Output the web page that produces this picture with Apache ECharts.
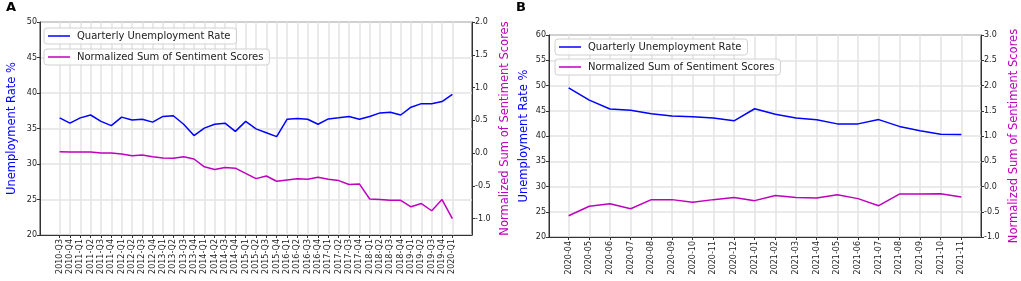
<!DOCTYPE html>
<html>
<head>
<meta charset="utf-8">
<title>Unemployment rate vs sentiment</title>
<script src="https://cdn.jsdelivr.net/npm/echarts@6/dist/echarts.min.js"></script>
<style>
  html, body { margin: 0; padding: 0; background: #fff; }
  #MyChart { width: 1021px; height: 281px; }
</style>
</head>
<body>
<div id="MyChart"></div>
<script>
// panel A: quarterly
const quartersA = ['2010-Q3', '2010-Q4',
  '2011-Q1', '2011-Q2', '2011-Q3', '2011-Q4',
  '2012-Q1', '2012-Q2', '2012-Q3', '2012-Q4',
  '2013-Q1', '2013-Q2', '2013-Q3', '2013-Q4',
  '2014-Q1', '2014-Q2', '2014-Q3', '2014-Q4',
  '2015-Q1', '2015-Q2', '2015-Q3', '2015-Q4',
  '2016-Q1', '2016-Q2', '2016-Q3', '2016-Q4',
  '2017-Q1', '2017-Q2', '2017-Q3', '2017-Q4',
  '2018-Q1', '2018-Q2', '2018-Q3', '2018-Q4',
  '2019-Q1', '2019-Q2', '2019-Q3', '2019-Q4',
  '2020-Q1']
const unempA = [36.5, 35.75,
  36.5, 36.9, 36.0, 35.4,
  36.6, 36.2, 36.3, 35.9,
  36.7, 36.8, 35.6, 34.0,
  35.05, 35.6, 35.75, 34.6,
  36.0, 34.95, 34.4, 33.85,
  36.3, 36.4, 36.3, 35.6,
  36.35, 36.5, 36.7, 36.3,
  36.7, 37.2, 37.3, 36.9,
  38.0, 38.5, 38.5, 38.8,
  39.8]
const sentA = [0.02, 0.015,
  0.015, 0.015, 0.0, 0.0,
  -0.015, -0.04, -0.03, -0.056,
  -0.076, -0.08, -0.056, -0.09,
  -0.21, -0.25, -0.22, -0.23,
  -0.31, -0.39, -0.35, -0.43,
  -0.41, -0.39, -0.40, -0.37,
  -0.40, -0.42, -0.48, -0.47,
  -0.70, -0.71, -0.72, -0.72,
  -0.82, -0.77, -0.88, -0.71,
  -1.0]

// panel B: monthly
const monthsB = ['2020-04', '2020-05', '2020-06', '2020-07', '2020-08', '2020-09',
  '2020-10', '2020-11', '2020-12', '2021-01', '2021-02', '2021-03', '2021-04',
  '2021-05', '2021-06', '2021-07', '2021-08', '2021-09', '2021-10', '2021-11']
const unempB = [49.55, 47.1, 45.35, 45.1, 44.4, 43.95, 43.8, 43.55, 43.0, 45.4,
  44.3, 43.55, 43.2, 42.4, 42.4, 43.25, 41.9, 41.05, 40.35, 40.3]
const sentB = [-0.58, -0.39, -0.34, -0.44, -0.26, -0.26, -0.31, -0.26, -0.22, -0.28,
  -0.18, -0.22, -0.23, -0.165, -0.24, -0.38, -0.15, -0.15, -0.145, -0.21]

// tick labels
const leftTicksA = [20, 25, 30, 35, 40, 45, 50]
const rightTicksA = [-1.0, -0.5, 0.0, 0.5, 1.0, 1.5, 2.0]
const leftTicksB = [20, 25, 30, 35, 40, 45, 50, 55, 60]
const rightTicksB = [-1.0, -0.5, 0.0, 0.5, 1.0, 1.5, 2.0, 2.5, 3.0]

const NAME_U = 'Quarterly Unemployment Rate'
const NAME_S = 'Normalized Sum of Sentiment Scores'
const BLUE = '#0000ff'
const MAG = '#bf00bf'
const FONT = 'DejaVu Sans'

var myEchart = echarts.init(document.getElementById('MyChart'), null, { renderer: 'canvas' })

// [index, value] pairs for a value x axis
function pairs (vals) {
  return vals.map(function (v, i) { return [i, v] })
}
function idx (n) {
  var out = []
  for (var i = 0; i < n; i++) out.push(i)
  return out
}

// x axis like matplotlib: 5% margin each side
function xAxisFor (gridIndex, cats) {
  var n = cats.length - 1
  return {
    type: 'value',
    gridIndex: gridIndex,
    min: -0.05 * n,
    max: n * 1.05,
    axisLine: { show: true, onZero: false, lineStyle: { color: '#333', width: 1 } },
    axisTick: { show: true, length: 3, customValues: idx(cats.length), lineStyle: { color: '#333' } },
    axisLabel: {
      customValues: idx(cats.length),
      rotate: 90,
      margin: 4,
      fontSize: 8,
      fontFamily: FONT,
      color: '#222',
      formatter: function (v) { return cats[Math.round(v)] }
    },
    splitLine: { show: true, lineStyle: { color: '#e3e3e3', width: 1.5 } }
  }
}

function yAxisFor (gridIndex, side, min, max, ticks, name, color, gap, grid) {
  return {
    type: 'value',
    gridIndex: gridIndex,
    position: side,
    min: min,
    max: max,
    name: name,
    nameLocation: 'middle',
    nameRotate: 90,
    nameGap: gap,
    nameTextStyle: { color: color, fontSize: 11.5, fontFamily: FONT },
    axisLine: { show: true, onZero: false, lineStyle: { color: '#333', width: 1 } },
    axisTick: { show: true, length: 3, customValues: ticks, lineStyle: { color: '#333' } },
    axisLabel: {
      customValues: ticks,
      margin: 3,
      fontSize: 8,
      fontFamily: FONT,
      color: '#222',
      formatter: function (v) { return side === 'right' ? v.toFixed(1) : String(v) }
    },
    splitLine: { show: grid, lineStyle: { color: '#e3e3e3', width: 1.5 } }
  }
}

function legendAt (name, left, top) {
  return {
    data: [name],
    left: left,
    top: top,
    icon: 'rect',
    itemWidth: 22,
    itemHeight: 1.5,
    selectedMode: false,
    padding: [3, 6, 3, 4],
    borderColor: '#d0d0d0',
    borderWidth: 1,
    borderRadius: 3,
    backgroundColor: 'rgba(255,255,255,0.8)',
    textStyle: { fontSize: 10, fontFamily: FONT, color: '#222', padding: [0, 0, 0, 2] }
  }
}

function lineSeries (name, data, xi, yi, color) {
  return {
    name: name,
    type: 'line',
    xAxisIndex: xi,
    yAxisIndex: yi,
    data: pairs(data),
    showSymbol: false,
    symbol: 'none',
    animation: false,
    lineStyle: { color: color, width: 1.5 },
    itemStyle: { color: color }
  }
}

var option = {
  animation: false,
  textStyle: { fontFamily: FONT },
  title: [
    { text: 'A', left: 6, top: 1, padding: 0, textStyle: { fontSize: 13, fontWeight: 'bold', color: '#000', fontFamily: FONT } },
    { text: 'B', left: 516, top: 1, padding: 0, textStyle: { fontSize: 13, fontWeight: 'bold', color: '#000', fontFamily: FONT } }
  ],
  legend: [
    legendAt(NAME_U, 44, 28),
    legendAt(NAME_S, 44, 49),
    legendAt(NAME_U, 555, 39),
    legendAt(NAME_S, 555, 59)
  ],
  grid: [
    { left: 40, top: 22, width: 432, height: 213, show: true, borderColor: '#333', borderWidth: 1, backgroundColor: 'transparent' },
    { left: 549, top: 35, width: 433, height: 202, show: true, borderColor: '#333', borderWidth: 1, backgroundColor: 'transparent' }
  ],
  xAxis: [
    xAxisFor(0, quartersA),
    xAxisFor(1, monthsB)
  ],
  yAxis: [
    yAxisFor(0, 'left', 20, 50, leftTicksA, 'Unemployment Rate %', BLUE, 22, true),
    yAxisFor(0, 'right', -1.25, 2.0, rightTicksA, NAME_S, MAG, 27, false),
    yAxisFor(1, 'left', 20, 60, leftTicksB, 'Unemployment Rate %', BLUE, 19, true),
    yAxisFor(1, 'right', -1.0, 3.0, rightTicksB, NAME_S, MAG, 27, false)
  ],
  series: [
    lineSeries(NAME_U, unempA, 0, 0, BLUE),
    lineSeries(NAME_S, sentA, 0, 1, MAG),
    lineSeries(NAME_U, unempB, 1, 2, BLUE),
    lineSeries(NAME_S, sentB, 1, 3, MAG)
  ]
}

myEchart.setOption(option)
</script>
</body>
</html>
